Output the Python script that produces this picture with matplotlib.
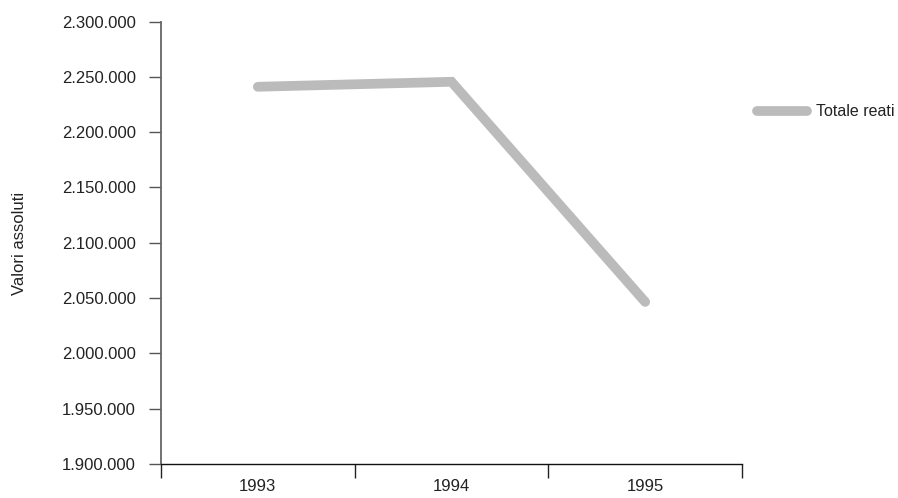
import matplotlib.pyplot as plt
from matplotlib.ticker import FuncFormatter

years = ['1993', '1994', '1995']
totale_reati = [2241000, 2245500, 2046500]

y_ticks = list(range(1900000, 2300001, 50000))

plt.rcParams['font.family'] = ['Liberation Sans', 'DejaVu Sans']

fig = plt.figure(figsize=(8.98, 4.98), dpi=100)
ax = fig.add_axes([161 / 898, 1 - 464 / 498, (742 - 161) / 898, (464 - 21.5) / 498])

x = [i + 0.5 for i in range(len(years))]
line, = ax.plot(x, totale_reati, color='#bbbbbb', linewidth=7, solid_capstyle='round',
                solid_joinstyle='miter', label='Totale reati')

ax.set_xlim(0, 3)
ax.set_ylim(1900000, 2300000)
ax.set_yticks(y_ticks)
ax.yaxis.set_major_formatter(FuncFormatter(lambda v, p: f'{int(v):,}'.replace(',', '.')))

# category boundaries as major ticks, year labels centred between them
ax.set_xticks([0, 1, 2, 3])
ax.set_xticklabels([])
ax.set_xticks(x, minor=True)
ax.set_xticklabels(years, minor=True)
ax.tick_params(axis='x', which='major', length=10, width=1, color='#222222', direction='out')
ax.tick_params(axis='x', which='minor', length=0, pad=11, labelsize=12, labelcolor='#222222')
ax.tick_params(axis='y', length=9, width=1, color='#555555', labelsize=12, labelcolor='#222222', pad=9)

for s in ['top', 'right']:
    ax.spines[s].set_visible(False)
ax.spines['left'].set_color('#666666')
ax.spines['left'].set_linewidth(1.3)
ax.spines['bottom'].set_color('#111111')
ax.spines['bottom'].set_linewidth(1)

fig.text(20 / 898, 1 - 243 / 498, 'Valori assoluti', rotation=90, ha='center', va='center',
         fontsize=12, color='#222222')

ax.legend(handles=[line], loc='center left', bbox_to_anchor=(757 / 898, 1 - 112 / 498),
          bbox_transform=fig.transFigure, frameon=False, fontsize=11.5, handlelength=3.1,
          handletextpad=0.6, borderpad=0, borderaxespad=0, labelcolor='#222222')

fig.savefig('out.png', dpi=100)
